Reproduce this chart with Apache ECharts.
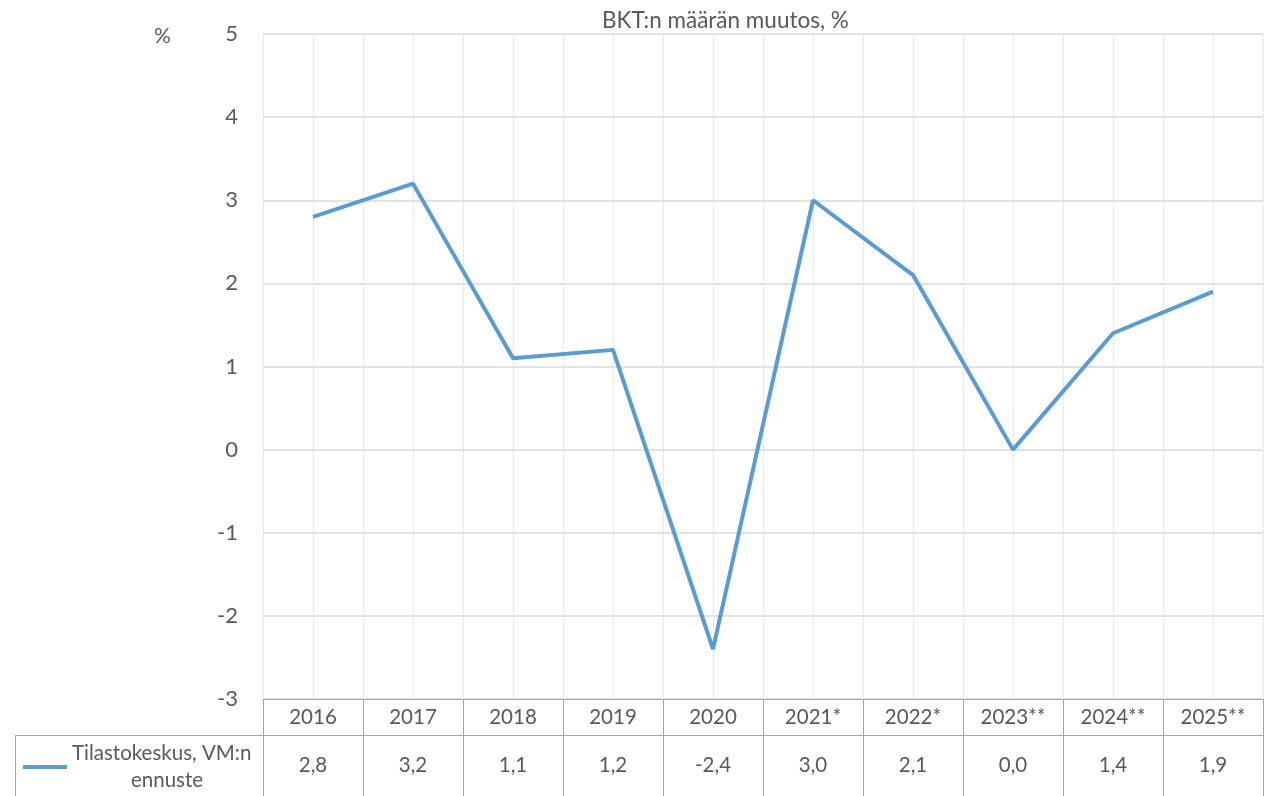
<!DOCTYPE html>
<html>
<head>
<meta charset="utf-8">
<script src="https://cdn.jsdelivr.net/npm/echarts@6/dist/echarts.min.js"></script>
<style>html,body{margin:0;padding:0;background:#fff}#c{width:1268px;height:796px}</style>
</head>
<body>
<div id="c"></div>
<script>
const categories = ['2016','2017','2018','2019','2020','2021*','2022*','2023**','2024**','2025**'];
const values = [2.8, 3.2, 1.1, 1.2, -2.4, 3.0, 2.1, 0.0, 1.4, 1.9];
const seriesName = 'Tilastokeskus, VM:n ennuste';
const yMin = -3, yMax = 5, yStep = 1;
const titleText = 'BKT:n määrän muutos, %';
const unitText = '%';

const FONT = 'Lato, "Open Sans", sans-serif';
const TXT = '#595959';
const fmt = v => v.toFixed(1).replace('.', ',');

const chart = echarts.init(document.getElementById('c'));
chart.setOption({
  animation: false,
  title: {
    text: titleText, left: 597, top: 4,
    textStyle: {fontFamily: FONT, fontSize: 22.5, fontWeight: 'normal', color: TXT}
  },
  grid: {left: 263, right: 5, top: 34, bottom: 97, containLabel: false},
  legend: {
    left: 18, top: 738, orient: 'vertical',
    icon: 'rect', itemWidth: 44, itemHeight: 4, itemGap: 0,
    data: [seriesName],
    formatter: () => '{a|Tilastokeskus, VM:n}\n{b|ennuste}',
    textStyle: {
      fontFamily: FONT, color: TXT, fontSize: 20,
      rich: {
        a: {fontFamily: FONT, fontSize: 20.5, color: TXT, lineHeight: 27},
        b: {fontFamily: FONT, fontSize: 20.5, color: TXT, lineHeight: 27, width: 190, align: 'center'}
      }
    }
  },
  xAxis: [
    {
      type: 'category', data: categories, boundaryGap: true, position: 'bottom',
      axisLine: {show: true, onZero: false, lineStyle: {color: '#a6a6a6', width: 1}},
      axisTick: {show: true, length: 97, lineStyle: {color: '#a6a6a6', width: 1}},
      splitLine: {show: false},
      axisLabel: {
        margin: 0, verticalAlign: 'top', interval: 0,
        formatter: (v, i) => '{y|' + v + '}\n{v|' + fmt(values[i]) + '}',
        rich: {
          y: {fontFamily: FONT, fontSize: 20.5, color: TXT, lineHeight: 36},
          v: {fontFamily: FONT, fontSize: 20.5, color: TXT, lineHeight: 60}
        }
      }
    },
    {
      type: 'value', min: 0, max: categories.length * 2, interval: 1, position: 'top',
      axisLine: {show: false}, axisTick: {show: false}, axisLabel: {show: false},
      splitLine: {show: true, lineStyle: {color: '#e3e3e3', width: 1, type: [3, 1]}}
    }
  ],
  yAxis: {
    type: 'value', min: yMin, max: yMax, interval: yStep,
    axisLine: {show: false}, axisTick: {show: false},
    axisLabel: {margin: 25, fontFamily: FONT, fontSize: 22, color: TXT},
    splitLine: {show: true, lineStyle: {color: '#d9d9d9', width: 1.5}}
  },
  graphic: [
    {type: 'text', left: 154, top: 26, style: {text: unitText, fontFamily: FONT, fontSize: 21, fill: TXT}},
    {type: 'line', shape: {x1: 15, y1: 735.5, x2: 1263, y2: 735.5}, style: {stroke: '#a6a6a6', lineWidth: 1}},
    {type: 'line', shape: {x1: 15.5, y1: 735, x2: 15.5, y2: 796}, style: {stroke: '#a6a6a6', lineWidth: 1}}
  ],
  series: [{
    name: seriesName, type: 'line', xAxisIndex: 0, data: values,
    symbol: 'none', lineStyle: {color: '#5b9bd5', width: 4}, itemStyle: {color: '#5b9bd5'}
  }]
});
</script>
</body>
</html>
